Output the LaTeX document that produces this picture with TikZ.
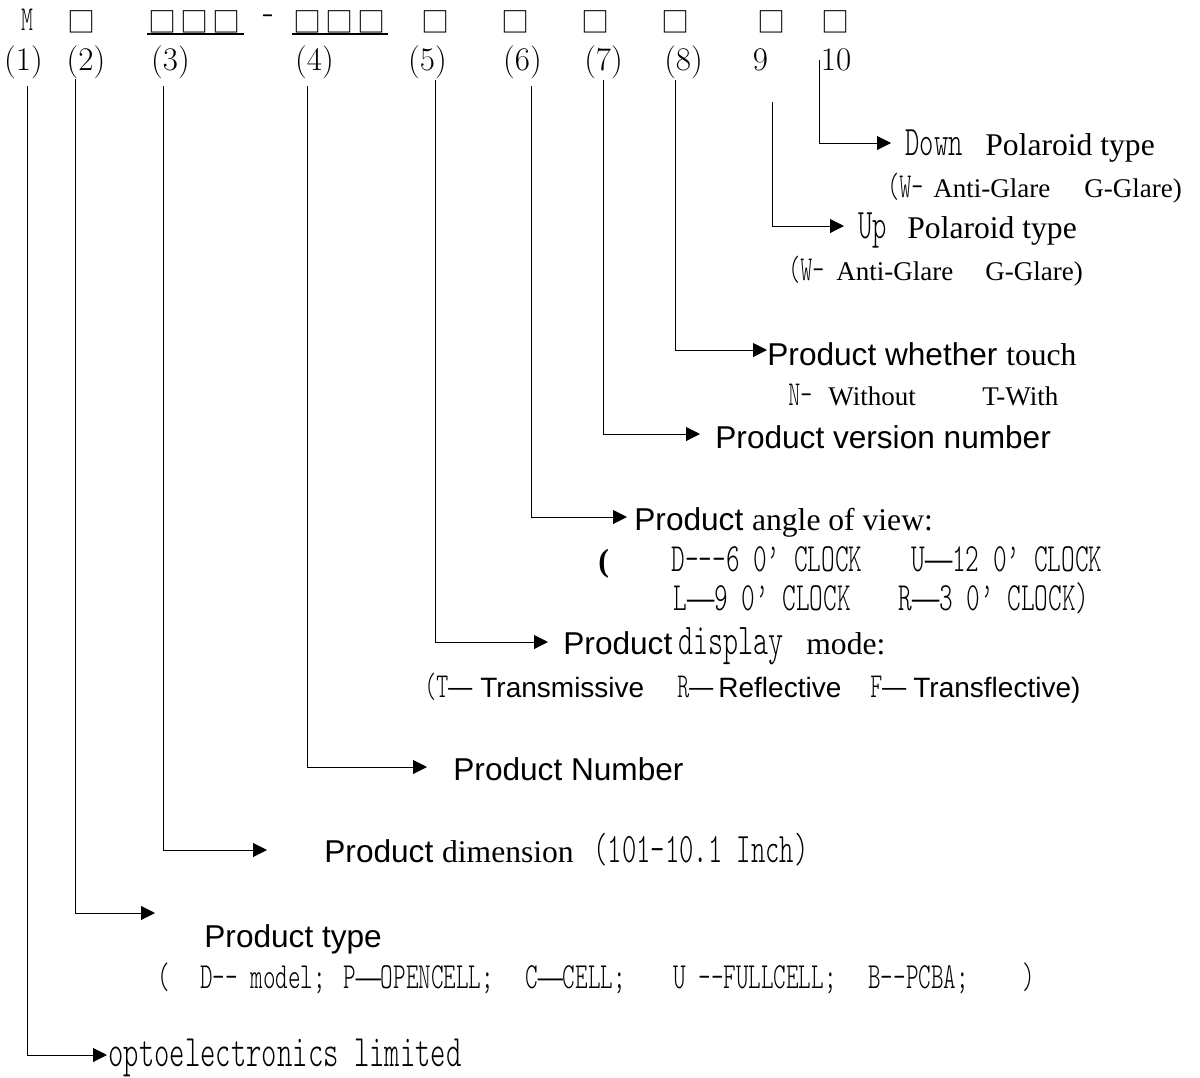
\documentclass[tikz,border=0pt]{standalone}
\usepackage{fontspec}
\usetikzlibrary{arrows.meta}
\newfontfamily\sunfont{lmmonolt10-regular.otf}[FakeStretch=0.65,Ligatures=TeXOff]
\newfontfamily\arialfont{Liberation Sans}[Ligatures=TeXOff]
\newfontfamily\timesfont{Liberation Serif}[Ligatures=TeXOff]
\newfontfamily\dashfont{Liberation Serif}[FakeStretch=0.68]
\newfontfamily\boxfont{Noto Sans CJK SC}
\newcommand{\fsz}[1]{\fontsize{#1}{#1}\selectfont}
\newcommand{\ldash}{{\dashfont —}}
\newcommand{\glaretext}[2]{\makebox[#1][l]{\sunfont\fsz{17.5pt}(W-}\makebox[#2][l]{\timesfont\fsz{13.5pt}Anti-Glare}\timesfont\fsz{13.5pt}G-Glare)}
\tikzset{
  desc/.style={anchor=base west,inner sep=0pt},
  lbl/.style={anchor=base,inner sep=0pt,font=\rmfamily\fsz{16.5pt}},
  codebox/.style={inner sep=0pt,font=\boxfont\fsz{14pt}},
  link/.style={line width=0.5pt,-{Triangle[length=7pt,width=7pt]}},
}
\begin{document}
\begin{tikzpicture}[x=0.5pt,y=-0.5pt]
\useasboundingbox (0,0) rectangle (1200,1077);
% code row
\node[inner sep=0pt,anchor=base,font=\sunfont\fsz{17.5pt}] (m) at (27,30) {M};
\foreach \x [count=\i] in {82,162.5,194.5,226.5,307.5,339.5,371.5,435,515,595,675,771.5,835}
  {\node[codebox] (b\i) at (\x,21.5) {□};}
\node[inner sep=0pt,font=\sunfont\fsz{17.5pt}] (dash) at (267.5,21) {-};
\draw[line width=1pt] (147,34)--(244,34) (292,34)--(388,34);
% numbers
\foreach \n/\x/\s in {1/23.5/(1),2/86/(2),3/170.5/(3),4/314.5/(4),5/427.5/(5),6/522.5/(6),7/603.5/(7),8/683.5/(8),9/760.5/9,10/836/10}
  {\node[lbl] (l\n) at (\x,70) {\s};}
% leaders
\foreach \n/\x/\t/\y/\e in {1/27/86/1055/107,2/75/79/913/155,3/163/86/850/267,4/307/86/767/427,5/435/80/642/548,6/531/86/517/627,7/603/80/434/700,8/675/80/350/767,9/772/102/226/844,10/819/60/143/891}{
  \coordinate (t\n) at (\x,\t);
  \coordinate (a\n) at (\e,\y);
  \draw[link] (t\n) |- (a\n);
}
% texts
\node[desc] (d10) at (905,155) {\makebox[40pt][l]{\sunfont\fsz{21pt}Down}\timesfont\fsz{15.8pt}Polaroid type};
\node[desc] (d10b) at (887,197) {\glaretext{23pt}{75.5pt}};
\node[desc] (d9) at (858,238) {\makebox[24.5pt][l]{\sunfont\fsz{21pt}Up}\timesfont\fsz{15.8pt}Polaroid type};
\node[desc] (d9b) at (788,280) {\glaretext{24pt}{74.5pt}};
\node[desc] (d8) at (767,365) {\arialfont\fsz{15.8pt}Product whether \timesfont touch};
\node[desc] (d8b) at (788,405) {\makebox[20pt][l]{\sunfont\fsz{17.5pt}N-}\makebox[77pt][l]{\timesfont\fsz{13.5pt}Without}\timesfont\fsz{13.5pt}T-With};
\node[desc] (d7) at (715,448) {\arialfont\fsz{15.8pt}Product version number};
\node[desc] (d6) at (634,530) {\arialfont\fsz{15.8pt}Product \timesfont angle of view:};
\node[desc] (d6b) at (598,571) {\sunfont\fsz{20pt}\makebox[36.5pt][l]{\timesfont\fsz{16pt}\bfseries(}\makebox[120pt][l]{D---6 0’ CLOCK}U\ldash12 0’ CLOCK};
\node[desc] (d6c) at (673,610) {\sunfont\fsz{20pt}\makebox[112.5pt][l]{L\ldash9 0’ CLOCK}R\ldash3 0’ CLOCK)};
\node[desc] (d5) at (563,654) {\makebox[57.5pt][l]{\arialfont\fsz{15.8pt}Product}\makebox[64pt][l]{\sunfont\fsz{22pt}display}\timesfont\fsz{15.8pt}mode:};
\node[desc] (d5b) at (424,697) {\fsz{14pt}\makebox[28pt][l]{\sunfont\fsz{17.5pt}(T\ldash}\makebox[98.5pt][l]{\arialfont Transmissive}\makebox[20.5pt][l]{\sunfont\fsz{17.5pt}R\ldash}\makebox[76pt][l]{\arialfont Reflective}\makebox[21.5pt][l]{\sunfont\fsz{17.5pt}F\ldash}\arialfont Transflective)};
\node[desc] (d4) at (453,780) {\arialfont\fsz{15.8pt}Product Number};
\node[desc] (d3) at (324,862) {\makebox[134.5pt][l]{\arialfont\fsz{15.8pt}Product \timesfont dimension}\sunfont\fsz{21pt}(101-10.1 Inch)};
\node[desc] (d2) at (204,947) {\arialfont\fsz{15.8pt}Product type};
\node[desc] (d2b) at (157,988) {\sunfont\fsz{18.4pt}\makebox[21.5pt][l]{(}\makebox[71.5pt][l]{D-- model;}\makebox[91pt][l]{P\ldash OPENCELL;}\makebox[74pt][l]{C\ldash CELL;}\makebox[97.5pt][l]{U --FULLCELL;}\makebox[77pt][l]{B--PCBA;})};
\node[desc] (d1) at (108,1066) {\sunfont\fsz{22.5pt}optoelectronics limited};
\end{tikzpicture}
\end{document}
